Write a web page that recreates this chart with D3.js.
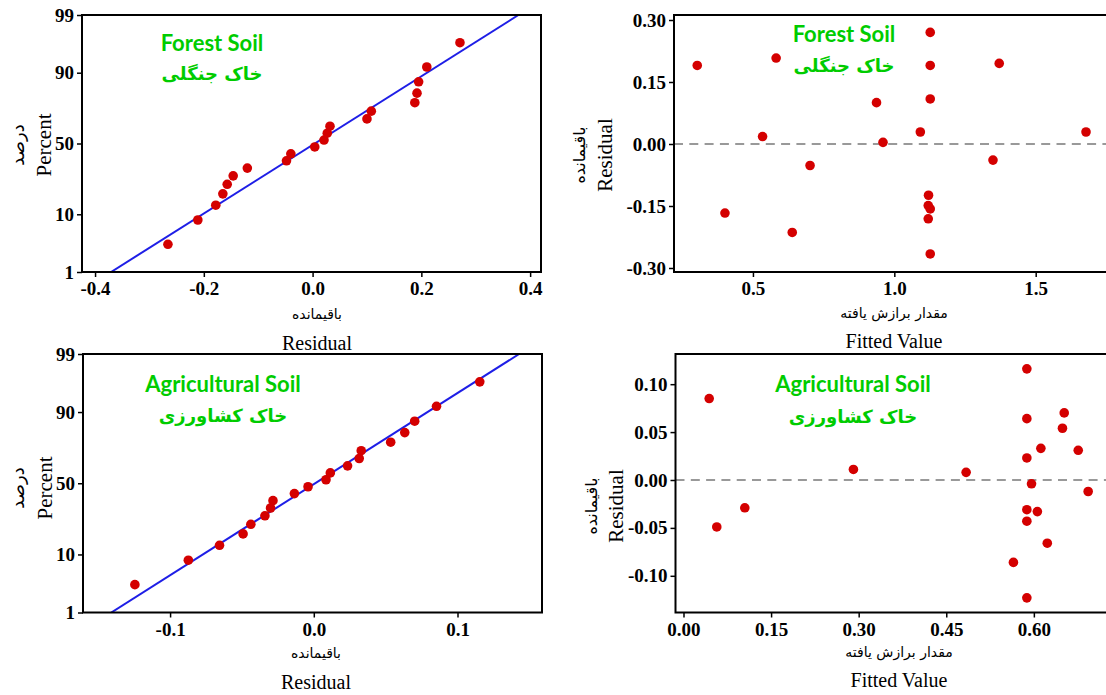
<!DOCTYPE html>
<html><head><meta charset="utf-8">
<script src="https://cdn.jsdelivr.net/npm/d3@7"></script>
<style>body{margin:0;background:#fff}svg{display:block}</style>
</head><body><svg id="c" width="1106" height="695"></svg>
<script>
// ---------- data ----------
const percentTicks = [1, 10, 50, 90, 99];
const percentTickLabels = ["1", "10", "50", "90", "99"];

// Forest soil – normal probability plot (ordered residuals and plotting percents)
const forestProbResidual = [-0.266, -0.211, -0.178, -0.165, -0.157, -0.146, -0.120, -0.048, -0.040, 0.004,
                            0.021, 0.027, 0.032, 0.100, 0.108, 0.188, 0.192, 0.195, 0.210, 0.271];
const forestProbPercent  = [3.4, 8.3, 13.2, 18.1, 23.0, 27.9, 32.8, 37.7, 42.6, 47.5,
                            52.5, 57.4, 62.3, 67.2, 72.1, 77.0, 81.9, 86.8, 91.7, 96.6];
const forestFitMean = 0.004, forestFitSd = 0.161;
const forestProbXTicks = [-0.4, -0.2, 0.0, 0.2, 0.4];
const forestProbXLabels = ["-0.4", "-0.2", "0.0", "0.2", "0.4"];

// Forest soil – residuals vs fitted
const forestFitted   = [0.303, 0.401, 0.534, 0.582, 0.639, 0.702, 0.937, 0.960, 1.092, 1.121,
                        1.127, 1.127, 1.127, 1.120, 1.127, 1.120, 1.127, 1.349, 1.371, 1.678];
const forestResidual = [0.190, -0.167, 0.018, 0.208, -0.214, -0.052, 0.100, 0.004, 0.029, -0.124,
                        0.270, 0.190, 0.109, -0.149, -0.157, -0.181, -0.266, -0.039, 0.195, 0.029];
const forestFitXTicks = [0.5, 1.0, 1.5];
const forestFitXLabels = ["0.5", "1.0", "1.5"];
const forestFitYTicks = [0.30, 0.15, 0.00, -0.15, -0.30];
const forestFitYLabels = ["0.30", "0.15", "0.00", "-0.15", "-0.30"];

// Agricultural soil – normal probability plot
const agricProbResidual = [-0.1245, -0.0873, -0.0656, -0.0492, -0.0438, -0.0340, -0.0301, -0.0284, -0.0135, -0.0040,
                           0.0085, 0.0115, 0.0235, 0.0316, 0.0330, 0.0535, 0.0633, 0.0702, 0.0854, 0.1155];
const agricProbPercent  = [3.4, 8.3, 13.2, 18.1, 23.0, 27.9, 32.8, 37.7, 42.6, 47.5,
                           52.5, 57.4, 62.3, 67.2, 72.1, 77.0, 81.9, 86.8, 91.7, 96.6];
const agricFitMean = 0.001, agricFitSd = 0.061;
const agricProbXTicks = [-0.1, 0.0, 0.1];
const agricProbXLabels = ["-0.1", "0.0", "0.1"];

// Agricultural soil – residuals vs fitted
const agricFitted   = [0.044, 0.057, 0.105, 0.291, 0.484, 0.588, 0.588, 0.588, 0.596, 0.588,
                       0.588, 0.606, 0.612, 0.623, 0.565, 0.588, 0.649, 0.652, 0.676, 0.693];
const agricResidual = [0.085, -0.049, -0.029, 0.011, 0.008, 0.116, 0.064, 0.023, -0.004, -0.031,
                       -0.043, -0.033, 0.033, -0.066, -0.086, -0.123, 0.054, 0.070, 0.031, -0.012];
const agricFitXTicks = [0.00, 0.15, 0.30, 0.45, 0.60];
const agricFitXLabels = ["0.00", "0.15", "0.30", "0.45", "0.60"];
const agricFitYTicks = [0.10, 0.05, 0.00, -0.05, -0.10];
const agricFitYLabels = ["0.10", "0.05", "0.00", "-0.05", "-0.10"];

const forestTitleEn = "Forest Soil", forestTitleFa = "خاک جنگلی";
const agricTitleEn = "Agricultural Soil", agricTitleFa = "خاک کشاورزی";
const residualFa = "باقیمانده", fittedFa = "مقدار برازش یافته", percentFa = "درصد";

// ---------- helpers ----------
function probit(p) { // inverse standard normal CDF (Acklam)
  const a=[-3.969683028665376e+01,2.209460984245205e+02,-2.759285104469687e+02,1.383577518672690e+02,-3.066479806614716e+01,2.506628277459239e+00];
  const b=[-5.447609879822406e+01,1.615858368580409e+02,-1.556989798598866e+02,6.680131188771972e+01,-1.328068155288572e+01];
  const c=[-7.784894002430293e-03,-3.223964580411365e-01,-2.400758277161838e+00,-2.549732539343734e+00,4.374664141464968e+00,2.938163982698783e+00];
  const d=[7.784695709041462e-03,3.224671290700398e-01,2.445134137142996e+00,3.754408661907416e+00];
  const pl=0.02425;
  let q,r;
  if (p<pl){q=Math.sqrt(-2*Math.log(p));return (((((c[0]*q+c[1])*q+c[2])*q+c[3])*q+c[4])*q+c[5])/((((d[0]*q+d[1])*q+d[2])*q+d[3])*q+1);}
  if (p>1-pl){q=Math.sqrt(-2*Math.log(1-p));return -(((((c[0]*q+c[1])*q+c[2])*q+c[3])*q+c[4])*q+c[5])/((((d[0]*q+d[1])*q+d[2])*q+d[3])*q+1);}
  q=p-0.5;r=q*q;
  return (((((a[0]*r+a[1])*r+a[2])*r+a[3])*r+a[4])*r+a[5])*q/(((((b[0]*r+b[1])*r+b[2])*r+b[3])*r+b[4])*r+1);
}

const svg = d3.select("#c");
const GREEN = "#00cc00", RED = "#d40000", BLUE = "#1e1ee6";
const serif = "'Liberation Serif','Times New Roman',serif";
const faFont = "'DejaVu Sans',sans-serif";
const enAnn = "Lato,'Open Sans',sans-serif";
let clipId = 0;

function frame(b, x, y, xTicks, xLabels, yTicks, yLabels) {
  const g = svg.append("g");
  const id = "clip" + (clipId++);
  svg.append("clipPath").attr("id", id).append("rect")
    .attr("x", b.x0).attr("y", b.y0).attr("width", b.x1 - b.x0).attr("height", b.y1 - b.y0);
  const xa = g.append("g").attr("transform", `translate(0,${b.y1})`)
    .call(d3.axisBottom(x).tickValues(xTicks).tickFormat((d, i) => xLabels[i]).tickSize(5).tickPadding(5));
  const ya = g.append("g").attr("transform", `translate(${b.x0},0)`)
    .call(d3.axisLeft(y).tickValues(yTicks).tickFormat((d, i) => yLabels[i]).tickSize(5).tickPadding(3));
  [xa, ya].forEach(a => {
    a.attr("font-family", serif).attr("font-size", 19).attr("font-weight", "bold");
    a.select(".domain").remove();
    a.selectAll(".tick line").attr("stroke", "#000").attr("stroke-width", 1.5);
    a.selectAll(".tick text").attr("fill", "#000").style("font-family", serif)
      .style("font-weight", "bold").style("font-size", "19px");
  });
  const plot = g.append("g").attr("clip-path", `url(#${id})`);
  return { g, plot, id };
}

function drawBox(g, b) {
  g.append("rect").attr("x", b.x0).attr("y", b.y0).attr("width", b.x1 - b.x0).attr("height", b.y1 - b.y0)
    .attr("fill", "none").attr("stroke", "#000").attr("stroke-width", 2);
}

function dots(plot, xs, ys, x, y) {
  plot.selectAll(null).data(xs).enter().append("circle")
    .attr("cx", d => x(d)).attr("cy", (d, i) => y(ys[i])).attr("r", 4.8).attr("fill", RED);
}

function label(t, xx, yy, font, size, opts = {}) {
  const el = svg.append("text").attr("x", xx).attr("y", yy).text(t)
    .attr("text-anchor", "middle").attr("dominant-baseline", "central")
    .style("font-family", font).style("font-size", size + "px")
    .style("font-weight", opts.bold ? "bold" : "normal").attr("fill", opts.fill || "#000");
  if (opts.rotate) el.attr("transform", `rotate(-90,${xx},${yy})`);
  return el;
}

function probPanel(b, xDom, xTicks, xLabels, res, pct, mean, sd, ann, lab) {
  const x = d3.scaleLinear().domain(xDom).range([b.x0, b.x1]);
  const zMax = probit(0.99);
  const y = d3.scaleLinear().domain([-zMax, zMax]).range([b.y1, b.y0]);
  const f = frame(b, x, y, xTicks, xLabels, percentTicks.map(p => probit(p / 100)), percentTickLabels);
  const zs = [probit(0.01), probit(0.99)];
  f.plot.append("line")
    .attr("x1", x(mean + sd * zs[0])).attr("y1", y(zs[0]))
    .attr("x2", x(mean + sd * zs[1])).attr("y2", y(zs[1]))
    .attr("stroke", BLUE).attr("stroke-width", 2);
  dots(f.plot, res, pct.map(p => probit(p / 100)), x, y);
  drawBox(f.g, b);
  label(ann[0], ann[2], ann[3], enAnn, 22, { bold: true, fill: GREEN });
  label(ann[1], ann[2], ann[4], faFont, 18, { bold: true, fill: GREEN });
  label(residualFa, lab.cx, lab.fa, faFont, 14);
  label("Residual", lab.cx, lab.en, serif, 20);
  label(percentFa, lab.fx, lab.cy, faFont, 18, { rotate: true });
  label("Percent", lab.ex, lab.cy, serif, 21, { rotate: true });
}

function fitPanel(b, xDom, yDom, xTicks, xLabels, yTicks, yLabels, fx, ry, ann, lab) {
  const x = d3.scaleLinear().domain(xDom).range([b.x0, b.x1]);
  const y = d3.scaleLinear().domain(yDom).range([b.y1, b.y0]);
  const f = frame(b, x, y, xTicks, xLabels, yTicks, yLabels);
  f.plot.append("line").attr("x1", b.x0).attr("x2", b.x1).attr("y1", y(0)).attr("y2", y(0))
    .attr("stroke", "#999").attr("stroke-width", 2).attr("stroke-dasharray", "9,6.3");
  dots(f.plot, fx, ry, x, y);
  drawBox(f.g, b);
  label(ann[0], ann[2], ann[3], enAnn, 22, { bold: true, fill: GREEN });
  label(ann[1], ann[2], ann[4], faFont, 18, { bold: true, fill: GREEN });
  label(fittedFa, lab.cx, lab.fa, faFont, 14);
  label("Fitted Value", lab.cx, lab.en, serif, 20);
  label(residualFa, lab.fx, lab.cy, faFont, 16, { rotate: true });
  label("Residual", lab.ex, lab.cy, serif, 21, { rotate: true });
}

// ---------- panels ----------
probPanel({ x0: 82, x1: 541, y0: 15, y1: 272 }, [-0.424, 0.42], forestProbXTicks, forestProbXLabels,
  forestProbResidual, forestProbPercent, forestFitMean, forestFitSd,
  [forestTitleEn, forestTitleFa, 212, 42, 73],
  { cx: 317, fa: 314, en: 343, fx: 17, ex: 44, cy: 145 });

fitPanel({ x0: 674, x1: 1110, y0: 15, y1: 272 }, [0.2208, 1.7628], [-0.3097, 0.3121],
  forestFitXTicks, forestFitXLabels, forestFitYTicks, forestFitYLabels, forestFitted, forestResidual,
  [forestTitleEn, forestTitleFa, 844, 33, 65],
  { cx: 894, fa: 313, en: 341, fx: 579, ex: 605, cy: 155 });

probPanel({ x0: 83, x1: 542, y0: 354, y1: 612.5 }, [-0.1606, 0.1588], agricProbXTicks, agricProbXLabels,
  agricProbResidual, agricProbPercent, agricFitMean, agricFitSd,
  [agricTitleEn, agricTitleFa, 223, 383, 415],
  { cx: 316, fa: 653, en: 682, fx: 17, ex: 45, cy: 488 });

fitPanel({ x0: 675.5, x1: 1110, y0: 354, y1: 612.5 }, [-0.0137, 0.7304], [-0.1383, 0.1315],
  agricFitXTicks, agricFitXLabels, agricFitYTicks, agricFitYLabels, agricFitted, agricResidual,
  [agricTitleEn, agricTitleFa, 853, 383, 416],
  { cx: 899, fa: 652, en: 680, fx: 591, ex: 616, cy: 506 });
</script></body></html>
